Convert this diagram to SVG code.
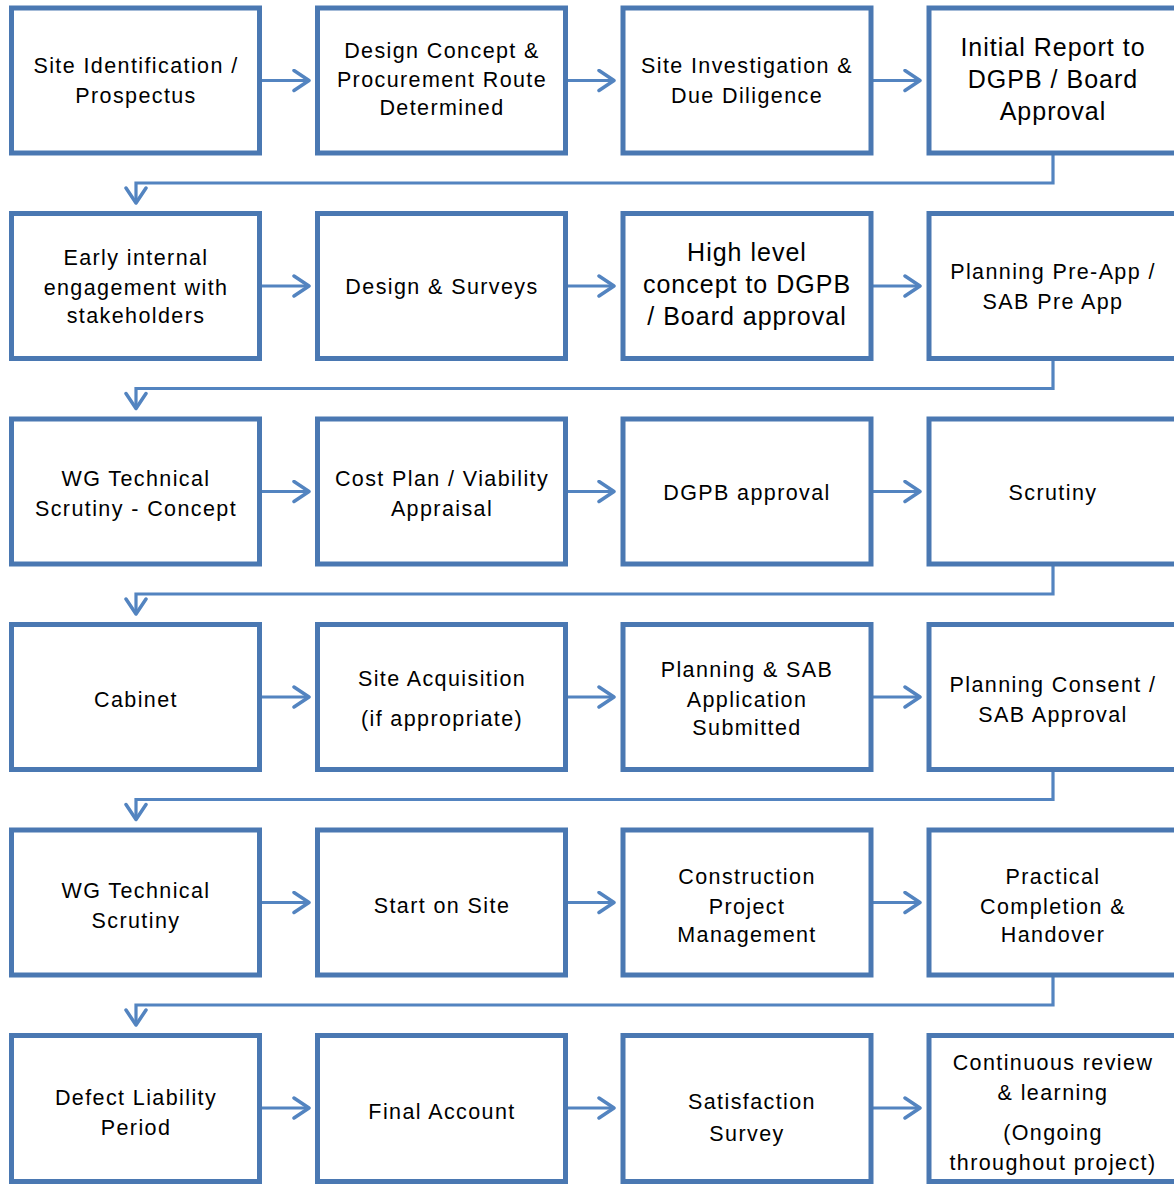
<svg xmlns="http://www.w3.org/2000/svg" width="1174" height="1185" viewBox="0 0 1174 1185">
<style>
.box{fill:#fff;stroke:#4A78B2;stroke-width:5}
.con{fill:none;stroke:#5384C0;stroke-width:3.2}
text{font-family:"Liberation Sans",Arial,sans-serif;font-size:21.5px;letter-spacing:1.4px;fill:#000;text-anchor:middle}
.big{font-size:25px;letter-spacing:1px}
</style>
<defs>
<marker id="ah" viewBox="0 0 20 24" refX="18" refY="12" markerWidth="20" markerHeight="24" markerUnits="userSpaceOnUse" orient="auto">
<path d="M3,2 L18,12 L3,22" fill="none" stroke="#5384C0" stroke-width="3.5" stroke-linecap="round" stroke-linejoin="round"/>
</marker>
</defs>
<rect width="1174" height="1185" fill="#fff"/>
<g id="connectors">
<path class="con" marker-end="url(#ah)" d="M262,80.5 H309"/>
<path class="con" marker-end="url(#ah)" d="M568,80.5 H614"/>
<path class="con" marker-end="url(#ah)" d="M873,80.5 H920"/>
<path class="con" marker-end="url(#ah)" d="M1053,155 V183 H136 V203"/>
<path class="con" marker-end="url(#ah)" d="M262,286 H309"/>
<path class="con" marker-end="url(#ah)" d="M568,286 H614"/>
<path class="con" marker-end="url(#ah)" d="M873,286 H920"/>
<path class="con" marker-end="url(#ah)" d="M1053,360.5 V388.5 H136 V408.5"/>
<path class="con" marker-end="url(#ah)" d="M262,491.5 H309"/>
<path class="con" marker-end="url(#ah)" d="M568,491.5 H614"/>
<path class="con" marker-end="url(#ah)" d="M873,491.5 H920"/>
<path class="con" marker-end="url(#ah)" d="M1053,566 V594 H136 V614"/>
<path class="con" marker-end="url(#ah)" d="M262,697 H309"/>
<path class="con" marker-end="url(#ah)" d="M568,697 H614"/>
<path class="con" marker-end="url(#ah)" d="M873,697 H920"/>
<path class="con" marker-end="url(#ah)" d="M1053,771.5 V799.5 H136 V819.5"/>
<path class="con" marker-end="url(#ah)" d="M262,902.5 H309"/>
<path class="con" marker-end="url(#ah)" d="M568,902.5 H614"/>
<path class="con" marker-end="url(#ah)" d="M873,902.5 H920"/>
<path class="con" marker-end="url(#ah)" d="M1053,977 V1005 H136 V1025"/>
<path class="con" marker-end="url(#ah)" d="M262,1108 H309"/>
<path class="con" marker-end="url(#ah)" d="M568,1108 H614"/>
<path class="con" marker-end="url(#ah)" d="M873,1108 H920"/>
</g>
<g id="n1"><rect class="box" x="11.5" y="8" width="248" height="145"/><text x="136" y="73">Site Identification /</text><text x="136" y="103">Prospectus</text></g>
<g id="n2"><rect class="box" x="317.5" y="8" width="248" height="145"/><text x="442" y="58">Design Concept &amp;</text><text x="442" y="87">Procurement Route</text><text x="442" y="115">Determined</text></g>
<g id="n3"><rect class="box" x="623" y="8" width="248" height="145"/><text x="747" y="73">Site Investigation &amp;</text><text x="747" y="103">Due Diligence</text></g>
<g id="n4"><rect class="box" x="929" y="8" width="248" height="145"/><text class="big" x="1053" y="56">Initial Report to</text><text class="big" x="1053" y="88">DGPB / Board</text><text class="big" x="1053" y="120">Approval</text></g>

<g id="n5"><rect class="box" x="11.5" y="213.5" width="248" height="145"/><text x="136" y="265">Early internal</text><text x="136" y="295">engagement  with</text><text x="136" y="323">stakeholders</text></g>
<g id="n6"><rect class="box" x="317.5" y="213.5" width="248" height="145"/><text x="442" y="294">Design &amp; Surveys</text></g>
<g id="n7"><rect class="box" x="623" y="213.5" width="248" height="145"/><text class="big" x="747" y="261">High level</text><text class="big" x="747" y="293">concept to DGPB</text><text class="big" x="747" y="325">/ Board approval</text></g>
<g id="n8"><rect class="box" x="929" y="213.5" width="248" height="145"/><text x="1053" y="279">Planning Pre-App /</text><text x="1053" y="309">SAB Pre App</text></g>

<g id="n9"><rect class="box" x="11.5" y="419" width="248" height="145"/><text x="136" y="486">WG Technical</text><text x="136" y="516">Scrutiny - Concept</text></g>
<g id="n10"><rect class="box" x="317.5" y="419" width="248" height="145"/><text x="442" y="486">Cost Plan / Viability</text><text x="442" y="516">Appraisal</text></g>
<g id="n11"><rect class="box" x="623" y="419" width="248" height="145"/><text x="747" y="500">DGPB approval</text></g>
<g id="n12"><rect class="box" x="929" y="419" width="248" height="145"/><text x="1053" y="500">Scrutiny</text></g>

<g id="n13"><rect class="box" x="11.5" y="624.5" width="248" height="145"/><text x="136" y="707">Cabinet</text></g>
<g id="n14"><rect class="box" x="317.5" y="624.5" width="248" height="145"/><text x="442" y="686">Site  Acquisition</text><text x="442" y="726">(if appropriate)</text></g>
<g id="n15"><rect class="box" x="623" y="624.5" width="248" height="145"/><text x="747" y="677">Planning &amp; SAB</text><text x="747" y="707">Application</text><text x="747" y="735">Submitted</text></g>
<g id="n16"><rect class="box" x="929" y="624.5" width="248" height="145"/><text x="1053" y="692">Planning Consent /</text><text x="1053" y="722">SAB Approval</text></g>

<g id="n17"><rect class="box" x="11.5" y="830" width="248" height="145"/><text x="136" y="898">WG Technical</text><text x="136" y="928">Scrutiny</text></g>
<g id="n18"><rect class="box" x="317.5" y="830" width="248" height="145"/><text x="442" y="913">Start on Site</text></g>
<g id="n19"><rect class="box" x="623" y="830" width="248" height="145"/><text x="747" y="884">Construction</text><text x="747" y="914">Project</text><text x="747" y="942">Management</text></g>
<g id="n20"><rect class="box" x="929" y="830" width="248" height="145"/><text x="1053" y="884">Practical</text><text x="1053" y="914">Completion &amp;</text><text x="1053" y="942">Handover</text></g>

<g id="n21"><rect class="box" x="11.5" y="1035.5" width="248" height="146"/><text x="136" y="1105">Defect Liability</text><text x="136" y="1135">Period</text></g>
<g id="n22"><rect class="box" x="317.5" y="1035.5" width="248" height="146"/><text x="442" y="1119">Final Account</text></g>
<g id="n23"><rect class="box" x="623" y="1035.5" width="248" height="146"/><text x="752" y="1109">Satisfaction</text><text x="747" y="1141">Survey</text></g>
<g id="n24"><rect class="box" x="929" y="1035.5" width="248" height="146"/><text x="1053" y="1070">Continuous review</text><text x="1053" y="1100">&amp; learning</text><text x="1053" y="1140">(Ongoing</text><text x="1053" y="1170">throughout project)</text></g>
</svg>
